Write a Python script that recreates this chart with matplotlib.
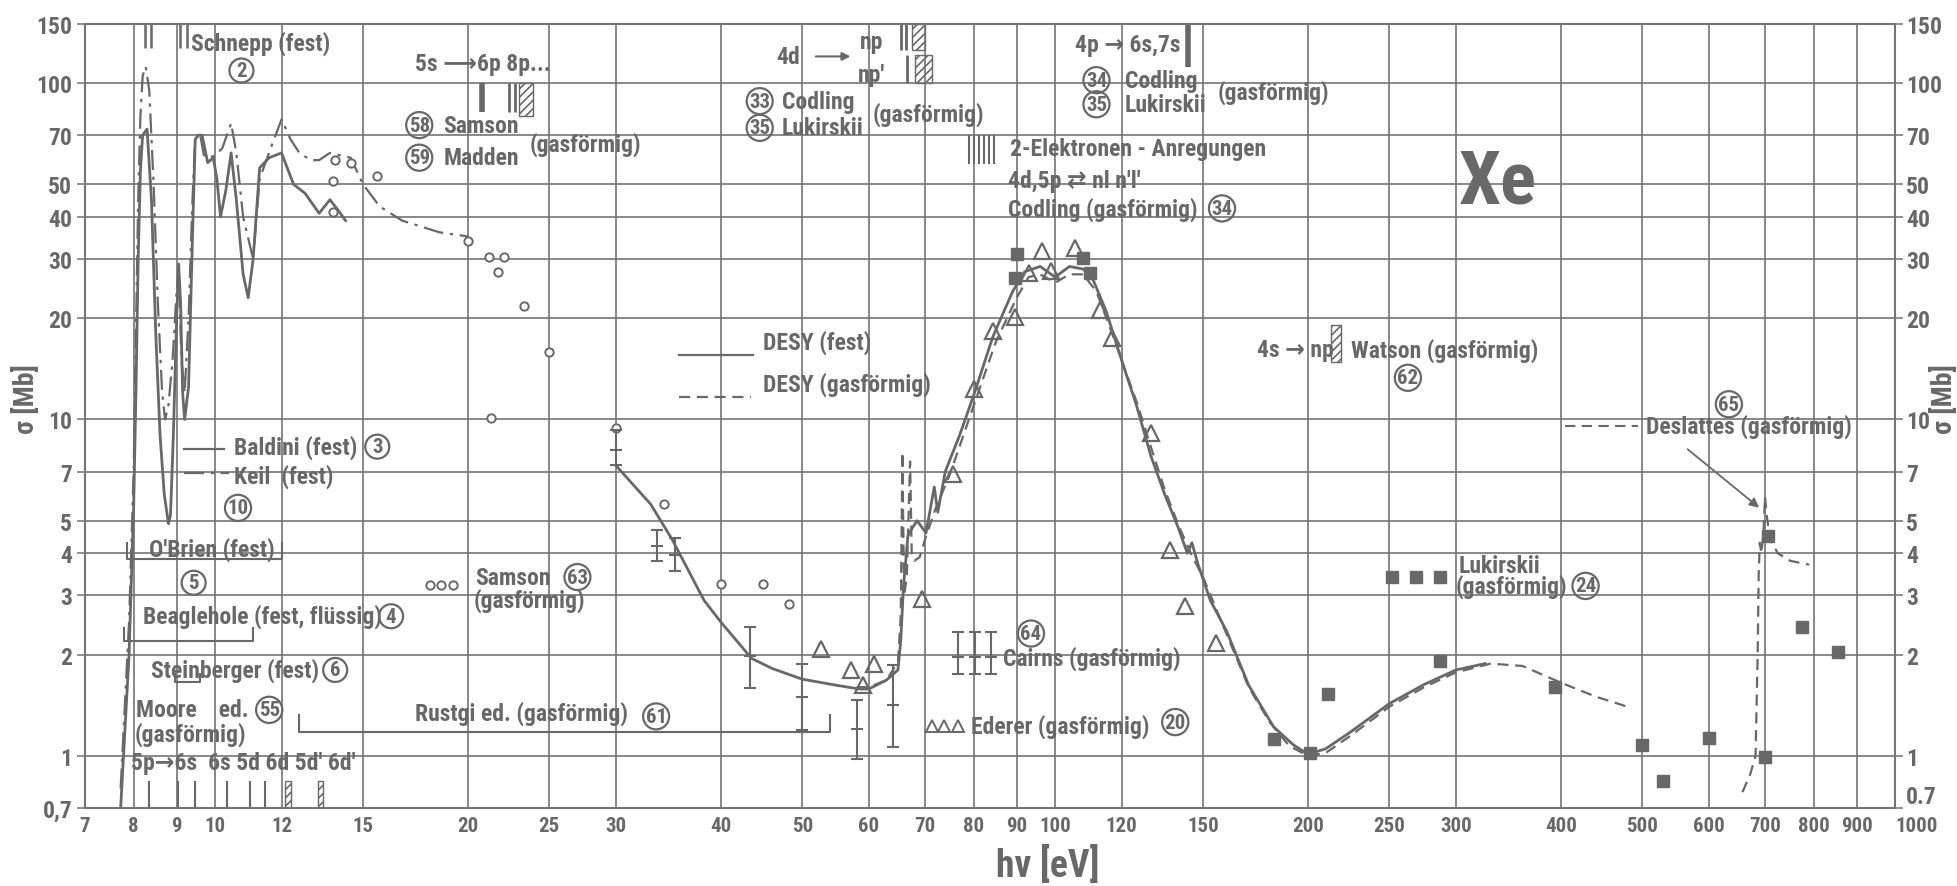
import matplotlib
matplotlib.use('Agg')
import matplotlib.pyplot as plt
from matplotlib import font_manager as fm
import numpy as np

# ---- data ----
x_ticks = [7, 8, 9, 10, 12, 15, 20, 25, 30, 40, 50, 60, 70, 80, 90, 100, 120, 150,
           200, 250, 300, 400, 500, 600, 700, 800, 900, 1000]
y_ticks = [0.7, 1, 2, 3, 4, 5, 7, 10, 20, 30, 40, 50, 70, 100, 150]
y_labels_left = ['0,7', '1', '2', '3', '4', '5', '7', '10', '20', '30', '40', '50', '70', '100', '150']
y_labels_right = ['0.7', '1', '2', '3', '4', '5', '7', '10', '20', '30', '40', '50', '70', '100', '150']

# Baldini (fest), solid
baldini_x = [7.72, 7.9, 8.0, 8.05, 8.1, 8.15, 8.2, 8.3, 8.4, 8.5, 8.6, 8.7, 8.8, 8.85, 8.92, 9.0, 9.05,
             9.1, 9.15, 9.2, 9.3, 9.4, 9.47, 9.55, 9.65, 9.8, 9.95, 10.05, 10.15, 10.3, 10.45, 10.6,
             10.8, 10.95, 11.1, 11.3, 11.6, 12.0, 12.4, 12.8, 13.3, 13.7, 14.0, 14.3]
baldini_y = [0.7, 2.0, 5.5, 12, 30, 55, 70, 73, 45, 18, 9, 6, 4.9, 5.2, 9, 20, 29,
             22, 12, 10, 12.5, 35, 68, 70, 70, 58, 60, 52, 40, 48, 62, 45,
             27, 23, 30, 56, 60, 62, 50, 47, 41, 45, 42, 39]

# Keil (fest), dash-dot
keil_x = [7.72, 7.9, 8.0, 8.05, 8.1, 8.15, 8.2, 8.27, 8.35, 8.45, 8.55, 8.65, 8.72, 8.8, 8.9, 9.0,
          9.05, 9.12, 9.2, 9.3, 9.4, 9.47, 9.6, 9.7, 9.85, 10.0, 10.2, 10.45, 10.6, 10.8, 11.1,
          11.3, 11.7, 12.0, 12.3, 12.6, 13.0, 13.3, 13.7, 14.5, 15.0, 15.7, 16.7, 18.5, 20.0]
keil_y = [0.8, 2.5, 7, 18, 45, 80, 105, 112, 95, 50, 22, 12, 10, 11, 15, 24,
          28, 15, 12, 20, 45, 68, 70, 61, 60, 61, 64, 76, 62, 40, 30,
          52, 66, 78, 68, 62, 59, 59, 62, 60, 50, 43, 39, 36, 35]

# DESY (fest), solid
desy_fest_x = [30, 33, 35, 38.2, 40, 43.5, 46, 50, 55, 58.5, 60, 63, 65, 65.5, 66, 66.8, 67.4, 68.5,
               70.2, 71.8, 72.5, 74, 77, 80, 84.3, 89, 92, 96, 100, 104, 108, 111, 115, 120, 125,
               130, 135, 140, 143.7, 145.5, 148, 153, 160, 170, 182, 192, 200, 210, 225, 250,
               275, 300, 325]
desy_fest_y = [7.3, 5.6, 4.4, 2.9, 2.5, 1.95, 1.82, 1.69, 1.62, 1.58, 1.58, 1.68, 1.8, 2.2, 3.2,
               4.5, 4.7, 5.0, 4.6, 6.3, 5.3, 7.0, 9.0, 11.8, 17.6, 24, 27.5, 28.5, 26.5, 28.5,
               28, 26, 21, 15, 11, 7.8, 6.0, 4.8, 4.0, 4.3, 3.7, 2.9, 2.35, 1.62, 1.22, 1.08,
               1.01, 1.05, 1.18, 1.43, 1.63, 1.8, 1.88]

# DESY (gasförmig), dashed
desy_gas_x = [58, 60, 63, 65, 65.5, 65.8, 66.1, 66.6, 67.2, 67.5, 68, 69, 70, 72, 75, 80, 85,
              90, 93, 96, 100, 104, 108, 112, 116, 120, 125, 130, 135, 140, 145, 150, 160, 170,
              180, 190, 200, 210, 225, 250, 275, 300, 330, 360, 400, 440, 480]
desy_gas_y = [1.6, 1.6, 1.68, 1.9, 2.6, 8.0, 3.0, 3.4, 7.5, 4.0, 3.8, 3.9, 4.4, 5.4, 6.9, 11, 17,
              23, 26.5, 27, 25.5, 27, 27, 24, 19, 15, 11.3, 8.3, 6.2, 4.9, 4.0, 3.4, 2.3, 1.6,
              1.26, 1.07, 1.0, 1.02, 1.15, 1.4, 1.6, 1.77, 1.88, 1.85, 1.65, 1.5, 1.4]

# Deslattes (gasförmig), dashed
deslattes_x = [658, 672, 682, 686, 688, 690, 693, 697, 700, 703, 710, 725, 750, 790]
deslattes_y = [0.78, 0.88, 1.0, 2.0, 3.5, 4.3, 4.0, 4.6, 5.9, 5.2, 4.4, 4.0, 3.8, 3.7]

# open circles (Samson / Madden / Rustgi)
circle_x = [13.9, 14.5, 13.8, 13.8, 15.6, 20.0, 21.2, 22.1, 21.7, 23.3, 25.0, 21.3, 30.0,
            34.2, 40.0, 44.9, 48.2]
circle_y = [59, 58, 51, 41.5, 53, 34, 30.5, 30.5, 27.5, 21.8, 15.9, 10.1, 9.4,
            5.6, 3.25, 3.25, 2.83]

# open triangles (Ederer)
tri_x = [52.6, 57.1, 59.1, 60.9, 69.4, 75.6, 80.0, 84.3, 89.5, 93.0, 96.6, 99.0, 105.6,
         113.0, 116.8, 130.0, 136.9, 142.8, 155.5]
tri_y = [2.08, 1.80, 1.62, 1.88, 2.93, 6.9, 12.3, 18.3, 20.2, 27.3, 31.7, 27.6, 32.3,
         21.2, 17.5, 9.1, 4.1, 2.78, 2.16]

# filled squares (Lukirskii)
sq_x = [90, 89.5, 108, 110, 182, 201, 211, 287, 394, 500, 529, 601, 700, 705, 774, 854]
sq_y = [31, 26.3, 30.3, 27.3, 1.12, 1.02, 1.53, 1.92, 1.60, 1.08, 0.84, 1.13, 0.99, 4.5, 2.41, 2.03]

# error bars (Cairns)
err_x = [30.0, 33.6, 35.3, 43.3, 50.0, 58.1, 64.2]
err_y = [8.1, 4.2, 3.95, 1.98, 1.50, 1.20, 1.42]
err_lo = [7.3, 3.8, 3.55, 1.59, 1.19, 0.98, 1.06]
err_hi = [9.3, 4.7, 4.45, 2.42, 1.88, 1.47, 1.86]

# ---- fonts ----
names = {f.name for f in fm.fontManager.ttflist}
stretch = 'normal'
if 'Liberation Sans Narrow' in names:
    fam = 'Liberation Sans Narrow'
    fs = 17
elif 'Roboto Condensed' in names:
    fam = 'Roboto Condensed'
    fs = 17
else:
    fam = 'DejaVu Sans'
    stretch = 'condensed'
    fs = 15
plt.rcParams['font.family'] = [fam, 'DejaVu Sans']
plt.rcParams['font.stretch'] = stretch
plt.rcParams['font.weight'] = 'bold'
plt.rcParams['hatch.linewidth'] = 1.2

ink = '#686868'
grid_c = '#747474'

fig = plt.figure(figsize=(19.57, 8.87), dpi=100)
ax = fig.add_axes([0.0434, 0.088, 0.925, 0.884])
ax.set_xscale('log')
ax.set_yscale('log')
ax.set_xlim(7, 1000)
ax.set_ylim(0.7, 150)
ax.xaxis.set_minor_locator(plt.NullLocator())
ax.yaxis.set_minor_locator(plt.NullLocator())
ax.set_xticks(x_ticks)
ax.set_xticklabels([str(v) for v in x_ticks])
ax.set_yticks(y_ticks)
ax.set_yticklabels(y_labels_left)
ax.tick_params(axis='x', length=0, pad=6, labelsize=fs - 2, labelcolor=ink)
ax.tick_params(axis='y', length=6, width=1.1, color=grid_c, pad=3, labelsize=fs, labelcolor=ink)
ax.grid(True, which='major', color=grid_c, lw=1.2)
for s in ax.spines.values():
    s.set_color(grid_c)
    s.set_linewidth(1.5)
# give the crowded last label a little room
ax.get_xticklabels()[-1].set_horizontalalignment('left')

ax2 = ax.twinx()
ax2.set_yscale('log')
ax2.set_ylim(0.7, 150)
ax2.yaxis.set_minor_locator(plt.NullLocator())
ax2.set_yticks(y_ticks)
ax2.set_yticklabels(y_labels_right)
ax2.tick_params(axis='y', length=6, width=1.1, color=grid_c, pad=2, labelsize=fs, labelcolor=ink)
ax2.get_yticklabels()[0].set_verticalalignment('bottom')
for s in ax2.spines.values():
    s.set_visible(False)

# ---- curves and points ----
ax.plot(baldini_x, baldini_y, color=ink, lw=2.0)
ax.plot(keil_x, keil_y, color=ink, lw=1.6, ls=(0, (9, 3, 1.5, 3)))
ax.plot(desy_fest_x, desy_fest_y, color=ink, lw=2.0)
ax.plot(desy_gas_x, desy_gas_y, color=ink, lw=1.6, ls=(0, (5, 3)))
ax.plot(deslattes_x, deslattes_y, color=ink, lw=1.6, ls=(0, (5, 3)))

ax.plot(circle_x, circle_y, 'o', ms=6, mfc='white', mec=ink, mew=1.4)
ax.plot(tri_x, tri_y, '^', ms=11, mfc='none', mec=ink, mew=1.6)
ax.plot(sq_x, sq_y, 's', ms=8.5, color=ink)

ey = np.array(err_y)
ax.errorbar(err_x, err_y, yerr=[ey - np.array(err_lo), np.array(err_hi) - ey], fmt='none',
            ecolor=ink, elinewidth=1.5, capsize=4, capthick=1.5)
ax.plot(err_x, err_y, '_', ms=9, mew=1.5, color=ink)


# ---- annotation helpers ----
def txt(x, y, s, size=None, **kw):
    ax.text(x, y, s, fontsize=size or fs, color=ink, ha=kw.pop('ha', 'left'),
            va=kw.pop('va', 'center'), **kw)


def circ(x, y, s, size=None):
    ax.text(x, y, s, fontsize=(size or fs) - 2, color=ink, ha='center', va='center',
            bbox=dict(boxstyle='circle,pad=0.12', fc='none', ec=ink, lw=1.6))


def hatched(x0, x1, y0, y1):
    ax.add_patch(plt.Rectangle((x0, y0), x1 - x0, y1 - y0, fill=False, hatch='////',
                               ec=ink, lw=1.0))


def bracket(x0, x1, yb, yt):
    ax.plot([x0, x0, x1, x1], [yt, yb, yb, yt], color=ink, lw=1.5)


# top-left transitions
ax.vlines([8.26, 8.39, 9.08, 9.25], 127, 150, color=ink, lw=1.8)
txt(9.36, 132, 'Schnepp (fest)')
circ(10.75, 109, '2')

txt(17.3, 114, '5s ⟶6p 8p...')
ax.vlines([20.8], 82, 100, color=ink, lw=4)
ax.vlines([22.4, 22.75], 82, 100, color=ink, lw=2)
hatched(23.0, 23.9, 80, 100)
circ(17.5, 75, '58')
txt(18.7, 75, 'Samson')
circ(17.5, 60, '59')
txt(18.7, 60, 'Madden')
txt(23.7, 66, '(gasförmig)')

# 4d -> np
txt(46.5, 120, '4d')
ax.annotate('', xy=(57.5, 120), xytext=(51.5, 120),
            arrowprops=dict(arrowstyle='-|>', color=ink, lw=1.5, mutation_scale=12))
txt(58.6, 133, 'np')
txt(58.3, 106, "np'")
ax.vlines([65.5, 66.5], 125, 150, color=ink, lw=2)
hatched(67.5, 70.0, 125, 150)
ax.vlines([66.6], 100, 121, color=ink, lw=2)
hatched(68.2, 71.3, 100, 121)
circ(44.5, 88.4, '33')
txt(47.3, 88.4, 'Codling')
circ(44.5, 73.6, '35')
txt(47.3, 73.6, 'Lukirskii')
txt(60.6, 81, '(gasförmig)')

# two-electron excitations
ax.vlines(np.geomspace(79, 84.6, 6), 57.4, 70, color=ink, lw=1.5)
txt(88.3, 64, '2-Elektronen - Anregungen')
txt(88.0, 51.2, "4d,5p ⇄ nl n'l'")
txt(88.0, 42.4, 'Codling (gasförmig)')
circ(158, 42.4, '34')

# 4p -> 6s,7s
txt(105.6, 130, '4p → 6s,7s')
ax.vlines([144], 112, 150, color=ink, lw=4)
circ(112, 102, '34')
txt(121, 102, 'Codling')
circ(112, 86.5, '35')
txt(121, 86.5, 'Lukirskii')
txt(156, 94, '(gasförmig)')

ax.text(302, 50.5, 'Xe', fontsize=54, fontweight='bold', color=ink, ha='left', va='center')

# Watson
txt(174, 16.1, '4s → np')
hatched(213, 219, 14.8, 19.1)
txt(225, 16.1, 'Watson (gasförmig)')
circ(263, 13.3, '62')

# Deslattes
circ(634, 11.1, '65')
ax.plot([405, 494], [9.56, 9.56], color=ink, lw=1.5, ls=(0, (5, 3)))
txt(505, 9.56, 'Deslattes (gasförmig)')
ax.annotate('', xy=(693, 5.4), xytext=(563, 8.25),
            arrowprops=dict(arrowstyle='-|>', color=ink, lw=1.3, mutation_scale=14))

# Lukirskii legend
ax.plot([252, 269, 287], [3.4, 3.4, 3.4], 's', ms=8.5, color=ink)
txt(302, 3.69, 'Lukirskii')
txt(300, 3.2, '(gasförmig)')
circ(428, 3.2, '24')

# DESY legend
ax.plot([35.7, 43.7], [15.5, 15.5], color=ink, lw=1.6)
txt(44.9, 17.0, 'DESY (fest)')
ax.plot([35.7, 43.5], [11.7, 11.7], color=ink, lw=1.6, ls=(0, (5, 3)))
txt(44.9, 12.8, 'DESY (gasförmig)')

# Baldini / Keil legend
ax.plot([9.19, 10.26], [8.19, 8.19], color=ink, lw=1.6)
txt(10.53, 8.3, 'Baldini (fest)')
circ(15.6, 8.3, '3')
ax.plot([9.19, 10.4], [6.95, 6.95], color=ink, lw=1.6, ls=(0, (9, 3, 1.5, 3)))
txt(10.53, 6.8, 'Keil  (fest)')
circ(10.65, 5.46, '10')

# O'Brien / Beaglehole / Steinberger
bracket(7.85, 12.0, 3.85, 4.3)
txt(8.35, 4.12, "O'Brien (fest)")
circ(9.43, 3.27, '5')
bracket(7.8, 11.1, 2.2, 2.4)
txt(8.21, 2.6, 'Beaglehole (fest, flüssig)')
circ(16.2, 2.6, '4')
bracket(8.96, 9.6, 1.66, 1.75)
txt(8.39, 1.8, 'Steinberger (fest)')
circ(13.9, 1.8, '6')

# Moore
txt(8.05, 1.37, 'Moore    ed.')
circ(11.6, 1.37, '55')
txt(8.03, 1.16, '(gasförmig)')
txt(7.95, 0.958, "5p→6s  6s 5d 6d 5d' 6d'")
ax.vlines([8.35, 9.03, 9.47, 10.33, 11.0, 11.47], 0.7, 0.84, color=ink, lw=1.5)
hatched(12.1, 12.33, 0.7, 0.84)
hatched(13.25, 13.45, 0.7, 0.84)

# Rustgi
bracket(12.6, 54.0, 1.18, 1.32)
txt(17.3, 1.34, 'Rustgi ed. (gasförmig)')
circ(33.5, 1.31, '61')

# Samson 63
ax.plot([18.0, 18.6, 19.2], [3.22, 3.22, 3.22], 'o', ms=6, mfc='white', mec=ink, mew=1.4)
txt(20.4, 3.4, 'Samson')
circ(27.0, 3.4, '63')
txt(20.3, 2.9, '(gasförmig)')

# Cairns
cx = [76.7, 80.2, 83.8]
ax.errorbar(cx, [1.97] * 3, yerr=[[0.22] * 3, [0.36] * 3], fmt='none', ecolor=ink,
            elinewidth=1.5, capsize=4, capthick=1.5)
ax.plot(cx, [1.97] * 3, '_', ms=9, mew=1.5, color=ink)
txt(86.6, 1.95, 'Cairns (gasförmig)')
circ(93.6, 2.31, '64')

# Ederer
ax.plot([71.3, 73.7, 76.6], [1.23, 1.23, 1.23], '^', ms=9, mfc='none', mec=ink, mew=1.4)
txt(79.4, 1.23, 'Ederer (gasförmig)')
circ(139, 1.26, '20')

# axis labels
fig.text(0.5355, 0.024, 'hν [eV]', fontsize=27, color=ink, ha='center', va='center')
fig.text(0.0135, 0.55, 'σ [Mb]', fontsize=20, color=ink, ha='center', va='center', rotation=90)
fig.text(0.9935, 0.55, 'σ [Mb]', fontsize=20, color=ink, ha='center', va='center', rotation=90)

fig.savefig('out.png', dpi=100, facecolor='white')
